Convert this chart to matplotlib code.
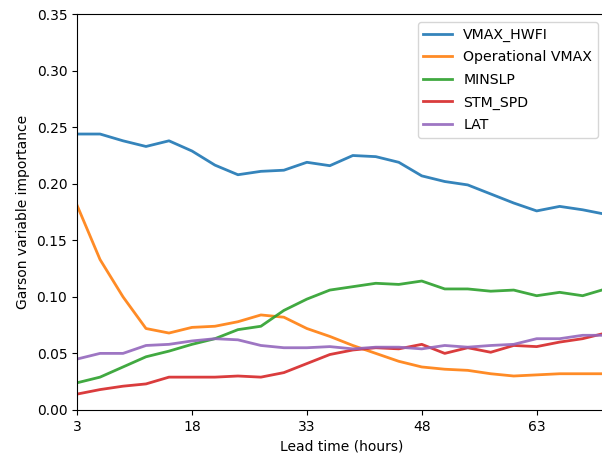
import matplotlib
matplotlib.use("Agg")
import matplotlib.pyplot as plt

hours = list(range(3, 73, 3))
vmax_hwfi = [0.244, 0.244, 0.238, 0.233, 0.238, 0.229, 0.2165, 0.208, 0.211, 0.212, 0.219, 0.216,
             0.225, 0.224, 0.219, 0.207, 0.202, 0.199, 0.191, 0.183, 0.176, 0.180, 0.177, 0.173]
operational_vmax = [0.181, 0.133, 0.100, 0.072, 0.068, 0.073, 0.074, 0.078, 0.084, 0.082, 0.072, 0.065,
                    0.057, 0.050, 0.043, 0.038, 0.036, 0.035, 0.032, 0.030, 0.031, 0.032, 0.032, 0.032]
minslp = [0.024, 0.029, 0.038, 0.047, 0.052, 0.058, 0.063, 0.071, 0.074, 0.088, 0.098, 0.106,
          0.109, 0.112, 0.111, 0.114, 0.107, 0.107, 0.105, 0.106, 0.101, 0.104, 0.101, 0.107]
stm_spd = [0.014, 0.018, 0.021, 0.023, 0.029, 0.029, 0.029, 0.030, 0.029, 0.033, 0.041, 0.049,
           0.053, 0.055, 0.054, 0.058, 0.050, 0.055, 0.051, 0.057, 0.056, 0.060, 0.063, 0.068]
lat = [0.045, 0.050, 0.050, 0.057, 0.058, 0.061, 0.063, 0.062, 0.057, 0.055, 0.055, 0.056,
       0.054, 0.0555, 0.0555, 0.054, 0.057, 0.0555, 0.057, 0.058, 0.063, 0.063, 0.066, 0.066]

series = [("VMAX_HWFI", vmax_hwfi), ("Operational VMAX", operational_vmax),
          ("MINSLP", minslp), ("STM_SPD", stm_spd), ("LAT", lat)]
xticks = [3, 18, 33, 48, 63]
yticks = [0, 0.05, 0.10, 0.15, 0.20, 0.25, 0.30, 0.35]

fig = plt.figure(figsize=(6.02, 4.57), dpi=100)
ax = fig.add_axes([0.128, 0.103, 0.878, 0.866])
for name, vals in series:
    ax.plot(hours, vals, label=name, linewidth=2, alpha=0.9)
ax.set_xlim(3, 72)
ax.set_ylim(0, 0.35)
ax.set_xticks(xticks)
ax.set_yticks(yticks)
ax.set_yticklabels([f"{v:.2f}" for v in yticks])
ax.tick_params(labelsize=10)
ax.set_xlabel("Lead time (hours)", fontsize=10)
ax.set_ylabel("Garson variable importance", fontsize=10, labelpad=5)
ax.legend(loc="upper right", bbox_to_anchor=(0.985, 0.98), borderaxespad=0,
          fontsize=10.2, labelspacing=0.6)
fig.savefig("out.png", dpi=100)
